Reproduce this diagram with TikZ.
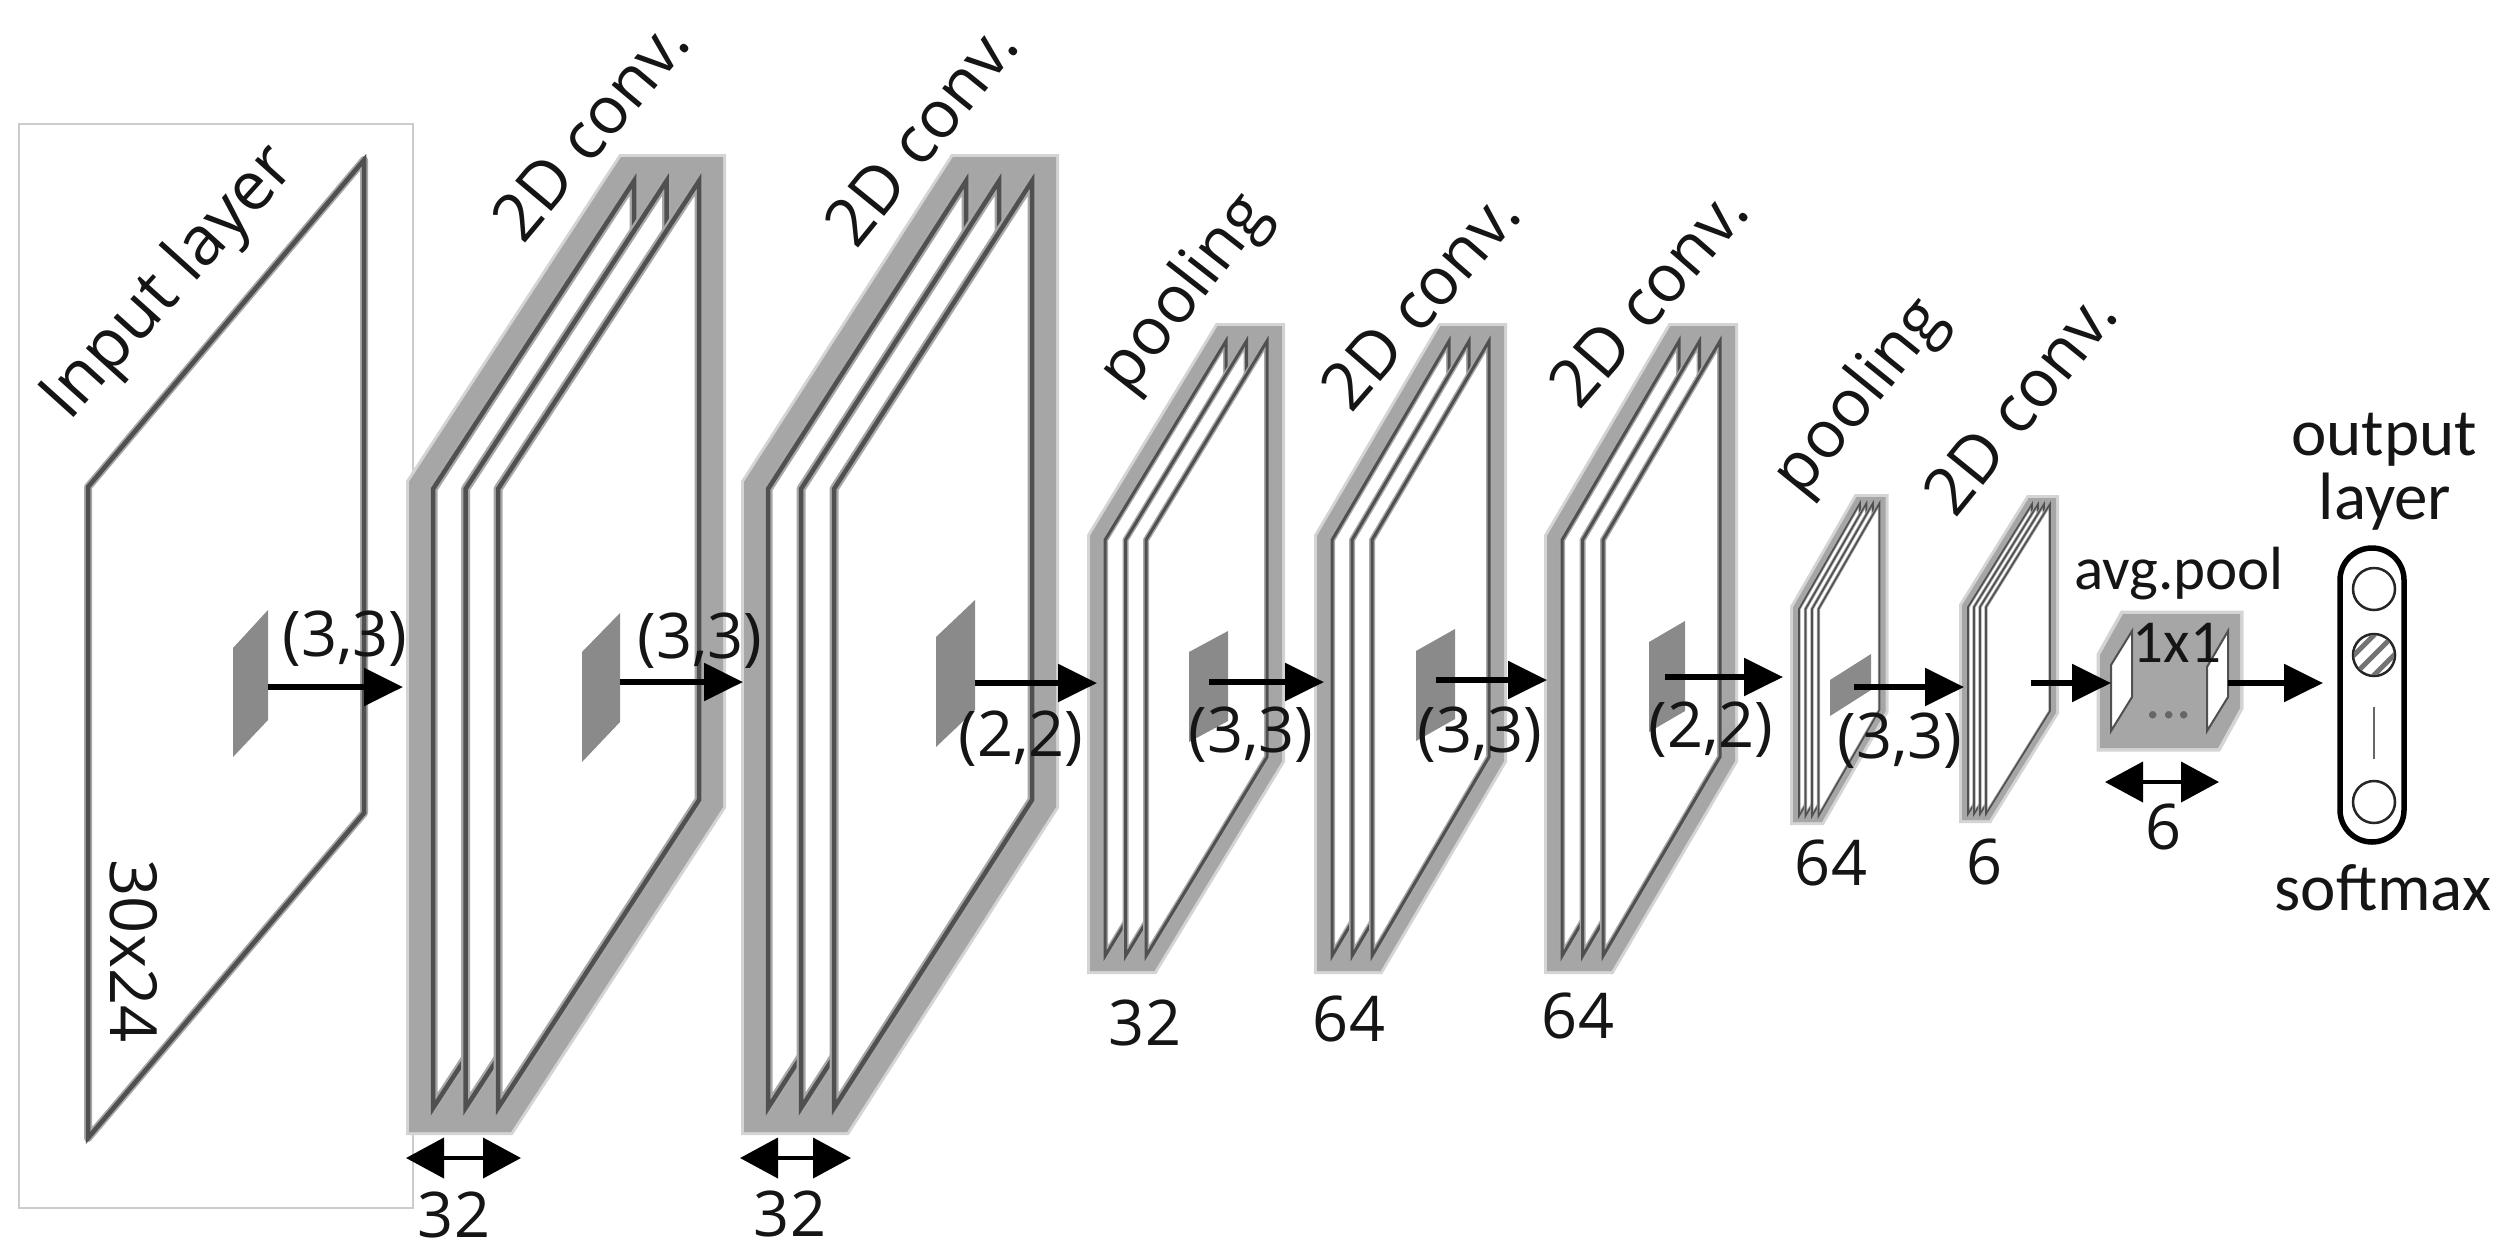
\documentclass[tikz,border=0pt]{standalone}
\usepackage{fontspec}
\setmainfont{Open Sans}
\newfontfamily\carlito{Carlito}
\usetikzlibrary{arrows.meta}
\definecolor{halo}{HTML}{A6A6A6}
\definecolor{halofringe}{HTML}{D4D4D4}
\definecolor{sheetline}{HTML}{505050}
\definecolor{sheetglow}{HTML}{A8A8A8}
\definecolor{patch}{HTML}{8A8A8A}
\definecolor{framec}{HTML}{CCCCCC}
\definecolor{txt}{HTML}{151515}
\tikzset{
  lab/.style={font=\fontsize{63}{70}\selectfont, inner sep=0pt, text=txt},
  tlab/.style={font=\fontsize{66}{72}\selectfont, inner sep=0pt, text=txt},
  clab/.style={font=\carlito\fontsize{61}{68}\selectfont, inner sep=0pt, text=txt},
  olab/.style={font=\carlito\fontsize{67}{74}\selectfont, inner sep=0pt, text=txt},
  arr/.style={line width=5.5pt, -{Triangle[length=39pt,width=37pt]}},
  dbl/.style={line width=4pt, {Triangle[length=38pt,width=40pt]}-{Triangle[length=38pt,width=40pt]}},
  patchst/.style={fill=patch, draw=none},
  unitcirc/.style={circle, draw=black!85, line width=2.5pt, minimum size=42pt, inner sep=0pt},
}
% #1 L, #2 spacing, #3 n, #4 width, #5 yTL, #6 yTR, #7 height, #8 halo offset, #9 line width
\newcommand{\fmstack}[9]{%
  \pgfmathsetmacro\fmLastL{#1+(#3-1)*#2}%
  \pgfmathsetmacro\fmRX{\fmLastL+#4}%
  \pgfmathsetmacro\fmFirstR{#1+#4}%
  \pgfmathsetmacro\fmYBL{#5+#7}%
  \pgfmathsetmacro\fmYBR{#6+#7}%
  \draw[line width={2*#8+6}, draw=halofringe, line join=miter]
    (#1,#5) -- (\fmFirstR,#6) -- (\fmRX,#6) -- (\fmRX,\fmYBR) -- (\fmLastL,\fmYBL) -- (#1,\fmYBL) -- cycle;
  \filldraw[line width={2*#8}, draw=halo, fill=halo, line join=miter]
    (#1,#5) -- (\fmFirstR,#6) -- (\fmRX,#6) -- (\fmRX,\fmYBR) -- (\fmLastL,\fmYBL) -- (#1,\fmYBL) -- cycle;
  \foreach \fmI in {1,...,#3}{%
    \pgfmathsetmacro\fmXL{#1+(\fmI-1)*#2}%
    \pgfmathsetmacro\fmXR{\fmXL+#4}%
    \filldraw[fill=white, draw=sheetglow, line width={2*#9}, line join=round]
      (\fmXL,#5) -- (\fmXR,#6) -- (\fmXR,\fmYBR) -- (\fmXL,\fmYBL) -- cycle;
    \draw[draw=sheetline, line width=#9, line join=miter]
      (\fmXL,#5) -- (\fmXR,#6) -- (\fmXR,\fmYBR) -- (\fmXL,\fmYBL) -- cycle;
  }%
}
\begin{document}
\begin{tikzpicture}[x=1pt,y=-1pt]
\useasboundingbox[fill=white] (0,0) rectangle (2504,1254);

% input layer frame and plane
\draw[draw=framec, line width=1.5pt] (19,124) rectangle (413,1208);
\filldraw[fill=white, draw=sheetglow, line width=8pt, line join=round] (88,487) -- (364,160) -- (364,813) -- (88,1138) -- cycle;
\draw[draw=sheetline, line width=4.5pt, line join=miter] (88,487) -- (364,160) -- (364,813) -- (88,1138) -- cycle;

% feature-map stacks
\fmstack{433}{32.5}{3}{201}{489}{181}{619}{24}{4.5}
\fmstack{768}{33}{3}{198}{489}{181}{619}{24}{4.5}
\fmstack{1105}{20.5}{3}{121}{540}{341}{416}{15}{3}
\fmstack{1332}{20}{3}{117}{540}{341}{416}{15}{3}
\fmstack{1562}{20.5}{3}{117}{540}{341}{416}{15}{3}
\fmstack{1799}{6.5}{4}{61}{609}{503}{207}{6}{1.6}
\fmstack{1968}{6}{4}{64}{607}{504}{207}{6}{1.6}

% avg.pool block
\draw[draw=halofringe, line width=7pt, line join=miter] (2100,655) -- (2123,614) -- (2240,614) -- (2240,708) -- (2218,748) -- (2100,748) -- cycle;
\fill[halo] (2100,655) -- (2123,614) -- (2240,614) -- (2240,708) -- (2218,748) -- (2100,748) -- cycle;
\filldraw[fill=white, draw=sheetline, line width=2pt] (2111,665) -- (2132,631) -- (2132,697) -- (2111,731) -- cycle;
\filldraw[fill=white, draw=sheetline, line width=2pt] (2207,667) -- (2228,631) -- (2228,697) -- (2207,731) -- cycle;
\node[clab] (one) at (2177,643) {1x1};
\node[clab, text=black!60, anchor=base] (dots) at (2169,718) {...};

% output layer
\node[draw=black, line width=5.5pt, rounded corners=32pt, minimum width=64pt, minimum height=294pt, inner sep=0pt] (outbox) at (2372,695) {};
\node[unitcirc] (o1) at (2374,589) {};
\node[unitcirc] (o2) at (2374,655) {};
\begin{scope}
  \clip (2374,655) circle (20pt);
  \foreach \k in {-10,0,10}
    \draw[line width=5pt, black!55] ({2374+\k-30},{655+\k+30}) -- ({2374+\k+30},{655+\k-30});
\end{scope}
\node[unitcirc] (o3) at (2374,802) {};
\coordinate (vl1) at (2374,707);
\coordinate (vl2) at (2374,759);
\draw[line width=2pt, black!60] (vl1) -- (vl2);

% kernel patches
\fill[patchst] (233,648) -- (268,610) -- (268,720) -- (233,757) -- cycle;
\fill[patchst] (582,652) -- (620,613) -- (620,722) -- (582,762) -- cycle;
\fill[patchst] (936,637) -- (975,600) -- (975,710) -- (936,747) -- cycle;
\fill[patchst] (1189,652) -- (1228,631) -- (1228,721) -- (1189,742) -- cycle;
\fill[patchst] (1416,651) -- (1455,629) -- (1455,719) -- (1416,741) -- cycle;
\fill[patchst] (1649,642) -- (1685,621) -- (1685,711) -- (1649,732) -- cycle;
\fill[patchst] (1830,680) -- (1871,654) -- (1871,690) -- (1830,716) -- cycle;

% arrows
\coordinate (a1s) at (268,687);  \coordinate (a1e) at (403,687);
\coordinate (a2s) at (620,682);  \coordinate (a2e) at (743,682);
\coordinate (a3s) at (975,683);  \coordinate (a3e) at (1097,683);
\coordinate (a4s) at (1209,682); \coordinate (a4e) at (1324,682);
\coordinate (a5s) at (1436,680); \coordinate (a5e) at (1547,680);
\coordinate (a6s) at (1665,677); \coordinate (a6e) at (1783,677);
\coordinate (a7s) at (1854,687); \coordinate (a7e) at (1964,687);
\coordinate (a8s) at (2031,683); \coordinate (a8e) at (2111,683);
\coordinate (a9s) at (2228,683); \coordinate (a9e) at (2323,683);
\foreach \i in {1,...,9} \draw[arr] (a\i s) -- (a\i e);

\coordinate (d1s) at (406,1158);  \coordinate (d1e) at (521,1158);
\coordinate (d2s) at (740,1158);  \coordinate (d2e) at (851,1158);
\coordinate (d3s) at (2105,782);  \coordinate (d3e) at (2219,782);
\draw[dbl] (d1s) -- (d1e);
\draw[dbl] (d2s) -- (d2e);
\draw[dbl] (d3s) -- (d3e);

% kernel labels
\node[lab] (k1) at (345,639) {(3,3)};
\node[lab] (k2) at (700,641) {(3,3)};
\node[lab] (k3) at (1021,739) {(2,2)};
\node[lab] (k4) at (1251,735) {(3,3)};
\node[lab] (k5) at (1480,735) {(3,3)};
\node[lab] (k6) at (1711,730) {(2,2)};
\node[lab] (k7) at (1900,741) {(3,3)};

% layer titles
\node[tlab, rotate=48, font=\fontsize{68}{74}\selectfont] (tin) at (170,284) {Input layer};
\node[tlab, rotate=50] (tc1) at (590,130) {2D conv.};
\node[tlab, rotate=51] (tc2) at (921,134) {2D conv.};
\node[tlab, rotate=52] (tp1) at (1186,294) {pooling};
\node[tlab, rotate=49] (tc3) at (1420,300) {2D conv.};
\node[tlab, rotate=49] (tc4) at (1648,297) {2D conv.};
\node[tlab, rotate=51] (tp2) at (1861,398) {pooling};
\node[tlab, rotate=51] (tc5) at (2020,403) {2D conv.};
\node[lab, rotate=-90, font=\fontsize{65}{72}\selectfont] (dim) at (134,951) {30x24};

% counts
\node[lab] (n1) at (454,1215) {32};
\node[lab] (n2) at (790,1214) {32};
\node[lab] (n3) at (1145,1023) {32};
\node[lab] (n4) at (1349,1019) {64};
\node[lab] (n5) at (1578,1016) {64};
\node[lab] (n6) at (1831,863) {64};
\node[lab] (n7) at (1984,862) {6};
\node[lab] (n8) at (2163,827) {6};

% right-hand texts
\node[clab, anchor=base] (avg) at (2179,589) {avg.pool};
\node[olab, anchor=base] (out1) at (2384,455) {output};
\node[olab, anchor=base] (out2) at (2385,519) {layer};
\node[olab, anchor=base] (soft) at (2383,910) {softmax};
\end{tikzpicture}
\end{document}
